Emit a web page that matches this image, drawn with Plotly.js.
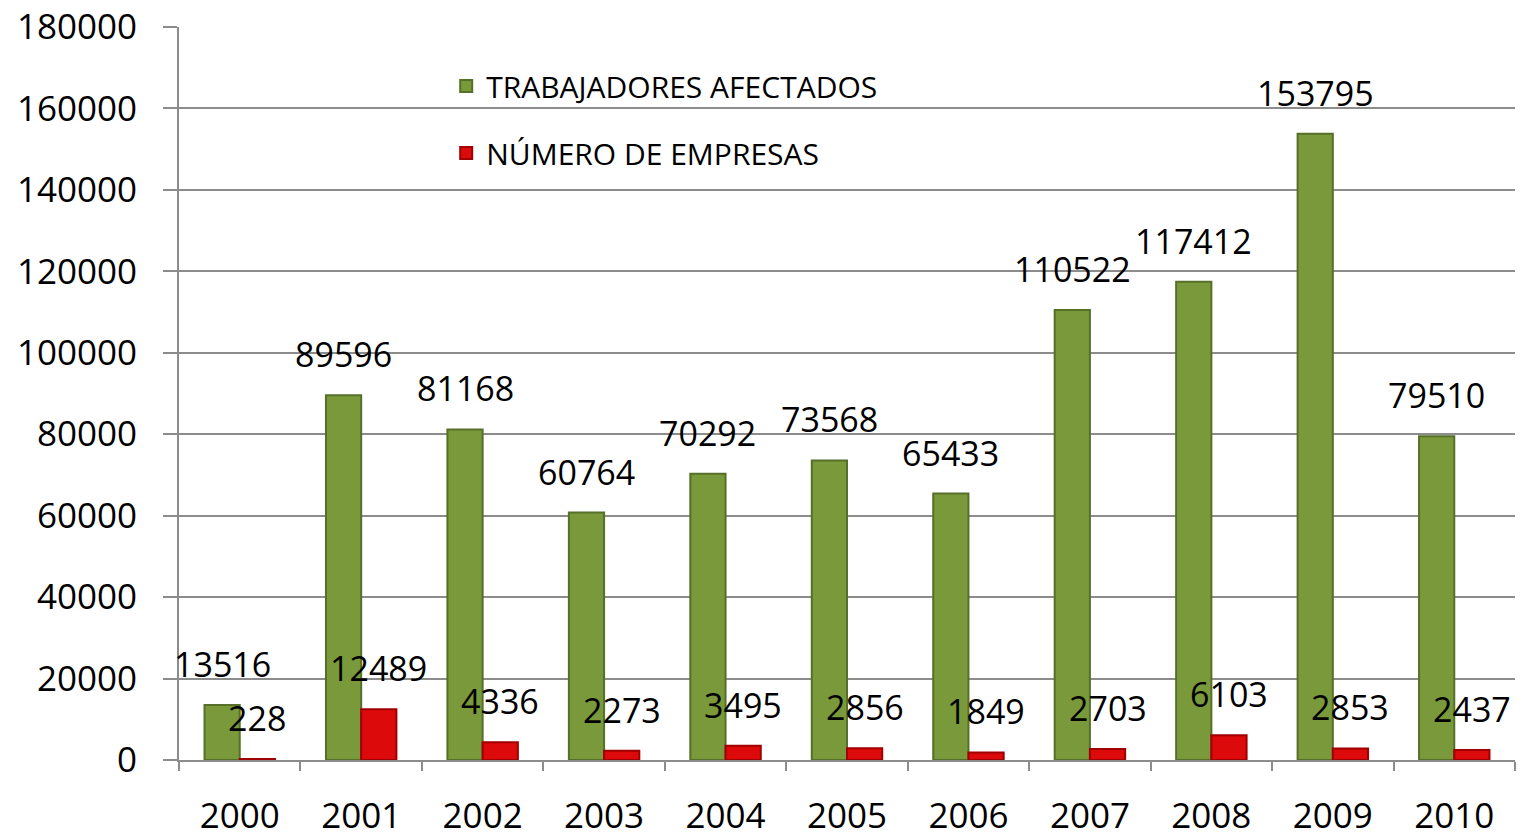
<!DOCTYPE html>
<html>
<head>
<meta charset="utf-8">
<script src="https://cdn.plot.ly/plotly-3.0.1.min.js"></script>
<style>html,body{margin:0;padding:0;background:#fff;}#chart{width:1523px;height:840px;}</style>
</head>
<body>
<div id="chart"></div>
<script>
const years = ["2000","2001","2002","2003","2004","2005","2006","2007","2008","2009","2010"];
const trabajadores = [13516, 89596, 81168, 60764, 70292, 73568, 65433, 110522, 117412, 153795, 79510];
const empresas = [228, 12489, 4336, 2273, 3495, 2856, 1849, 2703, 6103, 2853, 2437];
const seriesNames = ["TRABAJADORES AFECTADOS", "NÚMERO DE EMPRESAS"];

const FONT = "Open Sans, Liberation Sans, sans-serif";
const grid = "#8c8c8c";
const bargap = 0.42;
const catW = (1523 - 179 - 8) / years.length;
const halfBar = catW * (1 - bargap) / 4;

const traces = [
  {type: "bar", name: seriesNames[0], x: years, y: trabajadores, legendgroup: "a",
   marker: {color: "#7a993a", line: {color: "#56702a", width: 2}}, hoverinfo: "x+y"},
  {type: "bar", name: seriesNames[1], x: years, y: empresas, legendgroup: "b",
   marker: {color: "#dc0a0a", line: {color: "#a00000", width: 2}}, hoverinfo: "x+y"}
];

const annotations = [];
years.forEach((yr, i) => {
  annotations.push({x: i, y: trabajadores[i], xref: "x", yref: "y", text: String(trabajadores[i]),
    showarrow: false, xshift: -halfBar, yshift: 41, yanchor: "middle", xanchor: "center",
    font: {family: FONT, size: 34, color: "#000"}});
  annotations.push({x: i, y: empresas[i], xref: "x", yref: "y", text: String(empresas[i]),
    showarrow: false, xshift: halfBar, yshift: 41, yanchor: "middle", xanchor: "center",
    font: {family: FONT, size: 34, color: "#000"}});
});

const layout = {
  width: 1523, height: 840,
  margin: {l: 179, r: 8, t: 27, b: 80},
  paper_bgcolor: "#fff", plot_bgcolor: "#fff",
  barmode: "group", bargap: bargap, bargroupgap: 0,
  showlegend: true,
  legend: {x: 0.2, y: 0.955, xanchor: "left", yanchor: "top", bgcolor: "rgba(0,0,0,0)",
    traceorder: "grouped", tracegroupgap: 25,
    font: {family: FONT, size: 30, color: "#000"}},
  xaxis: {type: "category", range: [-0.5, 10.5], showgrid: false, showline: true, linecolor: grid, linewidth: 2,
    ticks: "outside", tickson: "boundaries", ticklen: 9, tickwidth: 2, tickcolor: grid,
    ticklabelstandoff: 24, tickfont: {family: FONT, size: 35, color: "#000"}, zeroline: false},
  yaxis: {range: [0, 180000], dtick: 20000, tick0: 0, tickformat: "d", showgrid: true, gridcolor: grid, gridwidth: 2,
    showline: true, linecolor: grid, linewidth: 2, zeroline: false,
    ticks: "outside", ticklen: 14, tickwidth: 2, tickcolor: grid,
    ticklabelstandoff: 19, tickfont: {family: FONT, size: 35, color: "#000"}},
  annotations: annotations
};

Plotly.newPlot("chart", traces, layout, {displayModeBar: false, staticPlot: true});
</script>
</body>
</html>
